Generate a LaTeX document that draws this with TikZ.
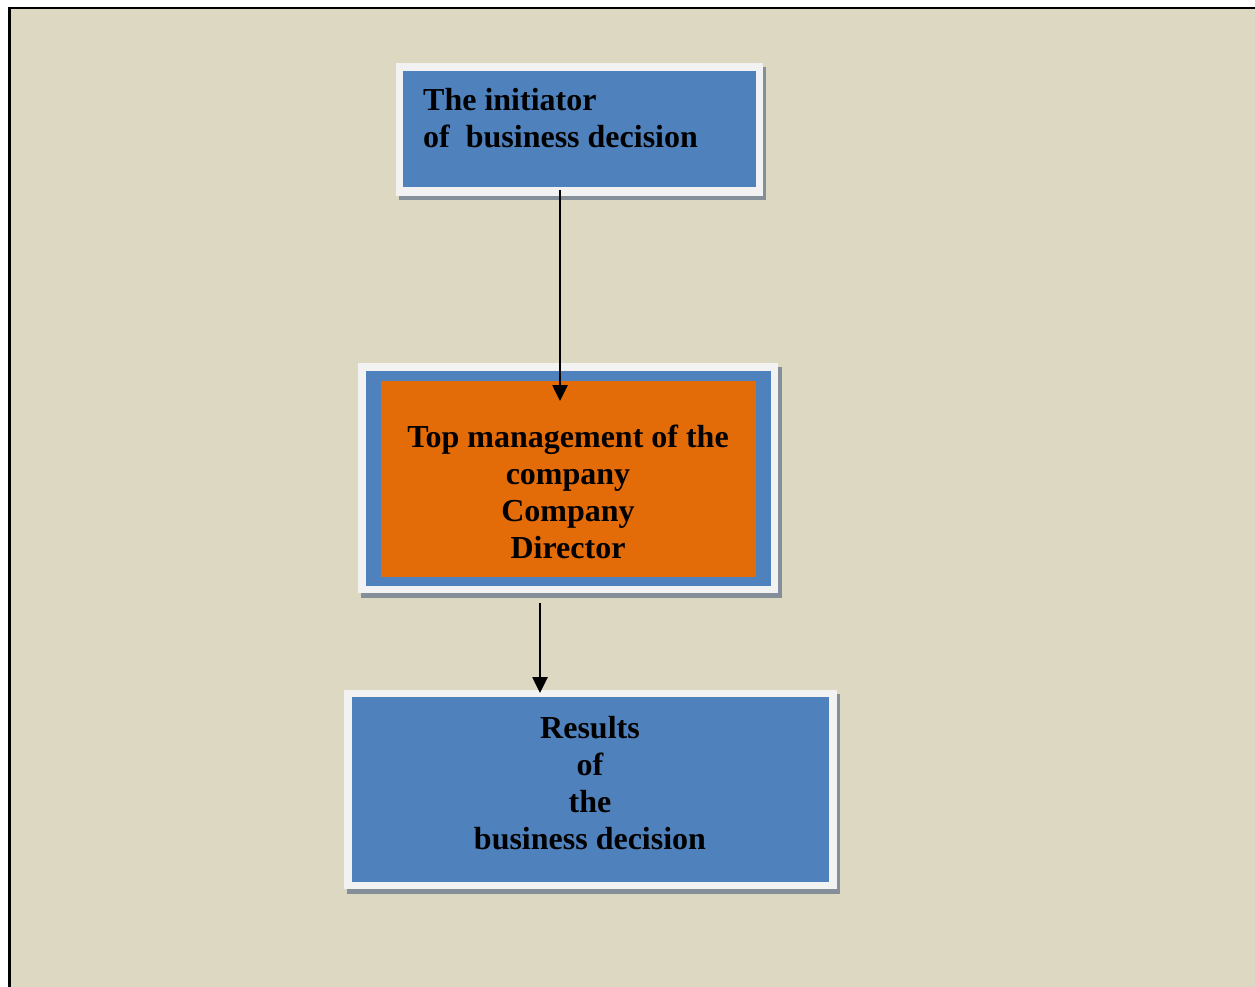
\documentclass[tikz,border=0pt]{standalone}
\usepackage{fontspec}
\setmainfont{Liberation Serif}
\usetikzlibrary{arrows.meta,calc}
\definecolor{bgtan}{HTML}{DDD8C2}
\definecolor{boxblue}{HTML}{4F81BD}
\definecolor{boxorange}{HTML}{E36C09}
\definecolor{framewhite}{HTML}{F2F2F2}
\definecolor{shadowgray}{HTML}{858F99}
\tikzset{
  shadowbox/.style={fill=shadowgray,draw=none},
  framebox/.style={fill=framewhite,draw=none},
  bluebox/.style={fill=boxblue,draw=none},
  orangebox/.style={fill=boxorange,draw=none},
  label/.style={inner sep=0pt,font=\bfseries\fontsize{32}{37}\selectfont},
  arr/.style={line width=2.6pt,-{Triangle[length=16pt,width=15pt]}}
}
\begin{document}
\begin{tikzpicture}[x=1pt,y=-1pt]
\useasboundingbox (0,0) rectangle (1255,987);
\begin{scope}
\clip (0,0) rectangle (1255,987);
\draw[fill=bgtan,line width=2.5pt] (9.5,8) rectangle (1270,1000);
\end{scope}
% box 1
\fill[shadowgray] (399,67) rectangle (766,200);
\fill[framewhite] (396,63) rectangle (763,196);
\node[bluebox,minimum width=353pt,minimum height=116pt,inner sep=0pt,anchor=north west] (n1) at (403,71) {};
\node[label,align=left,anchor=base west] (t1) at (423,148) {The initiator\\of\ \ business decision};
% box 2
\fill[shadowgray] (361,367) rectangle (782,598);
\fill[framewhite] (358,363) rectangle (778,593);
\fill[boxblue] (366,371) rectangle (771,586);
\node[orangebox,minimum width=375pt,minimum height=196pt,inner sep=0pt,anchor=north west] (n2) at (381,381) {};
\node[label,align=center,anchor=base] (t2) at (568,558) {Top management of the\\company\\Company\\Director};
% box 3
\fill[shadowgray] (347,694) rectangle (840,894);
\fill[framewhite] (344,690) rectangle (837,889);
\node[bluebox,minimum width=477pt,minimum height=185pt,inner sep=0pt,anchor=north west] (n3) at (352,697) {};
\node[label,align=center,anchor=base] (t3) at (590,849) {Results\\of\\the\\business decision};
% arrows
\coordinate (a1s) at ($(n1.south west)+(157,3)$);
\coordinate (a1e) at ($(n2.north west)+(179,20)$);
\draw[arr] (a1s) -- (a1e);
\coordinate (a2s) at ($(n2.south west)+(159,26)$);
\coordinate (a2e) at ($(n3.north west)+(188,-4)$);
\draw[arr] (a2s) -- (a2e);
\end{tikzpicture}
\end{document}
